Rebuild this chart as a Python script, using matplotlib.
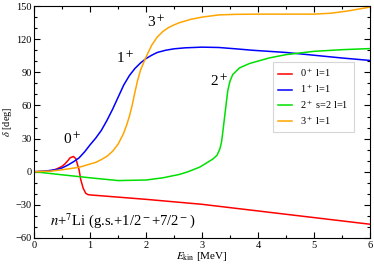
import numpy as np
import matplotlib
matplotlib.use('Agg')
import matplotlib.pyplot as plt
from matplotlib.ticker import MultipleLocator

plt.rcParams['font.family'] = ['Liberation Serif', 'DejaVu Serif']
plt.rcParams['mathtext.fontset'] = 'stix'

# phase shifts
e_red = [0, 0.2, 0.3, 0.4, 0.5, 0.55, 0.6, 0.64, 0.7, 0.745, 0.77, 0.8, 0.83, 0.875, 0.92, 0.96, 1.0,
         1.5, 2.0, 3.0, 4.0, 5.0, 6.0]
d_red = [0, 0.3, 0.8, 2.5, 5, 7.2, 10, 12.6, 13.8, 11.7, 7, 2, -7, -15, -19.5, -20.7, -21,
         -23, -25, -29.5, -35.5, -41.5, -47.5]

e_blue = [0, 0.2, 0.4, 0.5, 0.6, 0.7, 0.8, 0.9, 1.0, 1.1, 1.2, 1.3, 1.4, 1.5, 1.6, 1.7, 1.8, 1.9, 2.0,
          2.1, 2.2, 2.35, 2.5, 2.7, 3.0, 3.3, 3.6, 3.9, 4.5, 5.0, 5.5, 6.0]
d_blue = [0, 0.6, 2, 3.5, 6, 9, 12.5, 18, 24.5, 30.5, 37.5, 46.5, 56.5, 67.5, 78.5, 87, 93.5, 98.5, 102.5,
          105.5, 108, 110, 111.3, 112.2, 112.8, 112.5, 111.3, 110, 108, 105.5, 103, 100.8]

e_green = [0, 0.5, 1.0, 1.5, 2.0, 2.3, 2.6, 2.75, 2.96, 3.1, 3.2, 3.27, 3.32, 3.35, 3.375, 3.41, 3.46,
           3.5, 3.55, 3.67, 3.85, 4.2, 4.5, 5.0, 5.5, 6.0]
d_green = [0, -2.8, -5.5, -8, -7.5, -5.5, -2.4, 0, 4.2, 8.5, 11.7, 15, 20.7, 27, 37, 52, 73,
           82, 88, 94, 98, 103, 106, 109, 110.5, 111.5]

e_orange = [0, 0.3, 0.5, 0.8, 1.0, 1.1, 1.2, 1.3, 1.4, 1.5, 1.6, 1.65, 1.7, 1.75, 1.8, 1.85, 1.9, 2.0,
            2.1, 2.2, 2.3, 2.4, 2.5, 2.6, 2.8, 3.0, 3.3, 3.6, 4.0, 4.5, 5.0, 5.3, 5.6, 6.0]
d_orange = [0, 0.6, 1.8, 4, 7, 8.5, 11, 14, 18.5, 25, 35, 42, 50, 60, 72, 83, 92, 104,
            114.5, 122, 127, 130.5, 133, 135, 138, 140, 142, 142.5, 142.7, 142.7, 142.7, 143.5, 145.5, 149]

labels = ['0$^+$ l=1', '1$^+$ l=1', '2$^+$ s=2 l=1', '3$^+$ l=1']

fig = plt.figure(figsize=(3.74, 2.64), dpi=100)
ax = fig.add_axes([0.0917, 0.0985, 0.8968, 0.8785])

ax.plot(e_red, d_red, color='#ff0000', lw=1.1, label=labels[0])
ax.plot(e_blue, d_blue, color='#0000ff', lw=1.1, label=labels[1])
ax.plot(e_green, d_green, color='#00e000', lw=1.1, label=labels[2])
ax.plot(e_orange, d_orange, color='#ffa500', lw=1.1, label=labels[3])

ax.set_xlim(0, 6)
ax.set_ylim(-60, 150)
ax.xaxis.set_major_locator(MultipleLocator(1))
ax.xaxis.set_minor_locator(MultipleLocator(0.5))
ax.yaxis.set_major_locator(MultipleLocator(30))
ax.yaxis.set_minor_locator(MultipleLocator(10))
ax.tick_params(which='both', direction='in', top=True, right=True, labelsize=7.5, pad=2)
ax.tick_params(which='major', length=4, width=0.8)
ax.tick_params(which='minor', length=2.2, width=0.8)

ax.set_xlabel(r'$E_{\rm kin}$ [MeV]', fontsize=8, labelpad=0)
ax.set_ylabel(r'$\delta$ [deg]', fontsize=7.5, labelpad=1)

ax.text(0.67, 29, '0$^+$', fontsize=11, ha='center', va='center')
ax.text(1.62, 103, '1$^+$', fontsize=11, ha='center', va='center')
ax.text(2.18, 135, '3$^+$', fontsize=11, ha='center', va='center')
ax.text(3.31, 82, '2$^+$', fontsize=11, ha='center', va='center')
ax.text(0.28, -44, r'$n$+$^7$Li (g.s.+1/2$^-$+7/2$^-$)', fontsize=10.5, ha='left', va='center')

leg = ax.legend(loc='upper left', bbox_to_anchor=(0.712, 0.759), fontsize=7.5, frameon=True,
                fancybox=False, handlelength=1.3, handletextpad=0.8, borderpad=0.5,
                labelspacing=0.35, borderaxespad=0)
leg.get_frame().set_edgecolor('#cccccc')
leg.get_frame().set_linewidth(0.8)

fig.savefig('out.png', dpi=100)
